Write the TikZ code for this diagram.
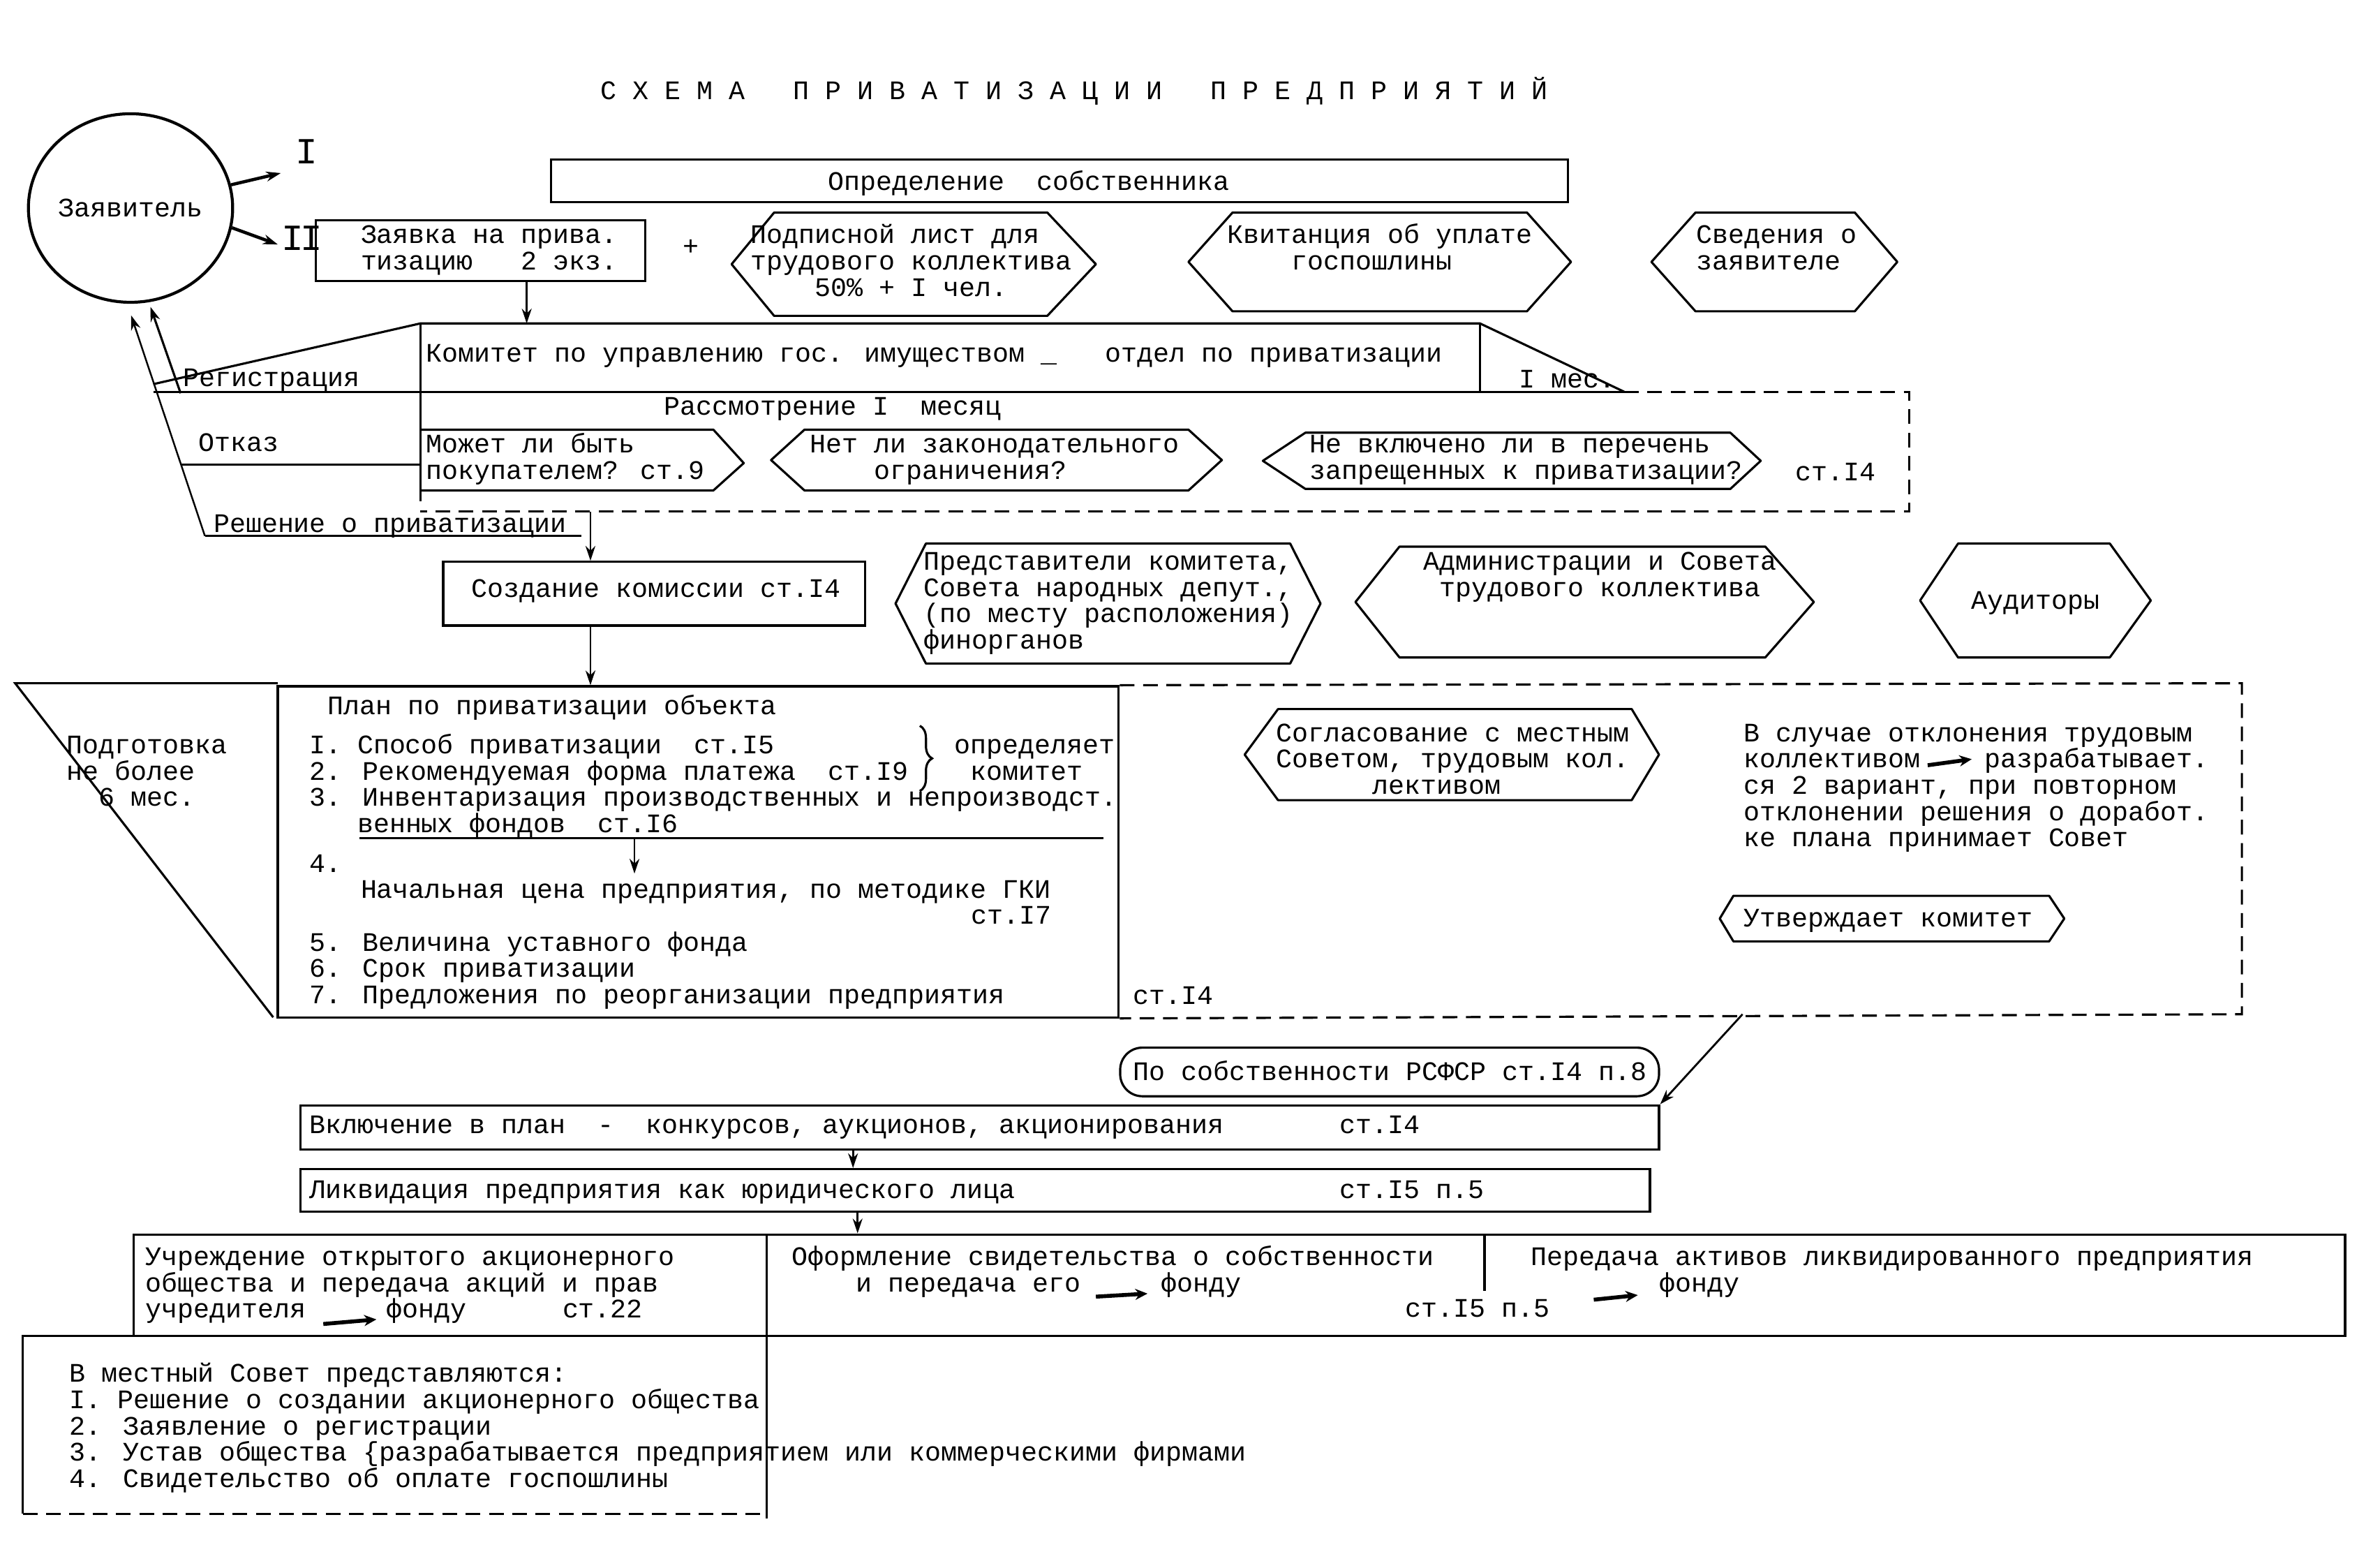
\documentclass[tikz,border=0pt]{standalone}
\usepackage{fontspec}
\setmainfont{Liberation Mono}
\usetikzlibrary{arrows.meta, positioning, fit, shapes.geometric, decorations.pathreplacing}
\newcommand\typew{\fontsize{10.9}{10.7}\selectfont}
\newcommand\topstr{\rule{0pt}{9.5pt}}
\tikzset{
  box/.style    = {rectangle, draw, line width=0.9pt, inner sep=0pt},
  txt/.style    = {inner sep=0pt, anchor=north west, align=left, yshift=6.6pt},
  hexa/.style   = {draw, line width=0.9pt, line join=round},
  arrow/.style  = {-{Stealth[length=6pt, width=4pt]}, line width=0.8pt},
  harrow/.style = {-{Stealth[length=5pt, width=4.5pt]}, line width=1.6pt},
  dline/.style  = {line width=0.9pt, dash pattern=on 6pt off 3.5pt},
}
\begin{document}
\begin{tikzpicture}[x=0.021747cm, y=-0.021747cm, line width=0.9pt,
                    every node/.style={font=\typew}]
  \useasboundingbox (0,0) rectangle (1568,1022);

  \node[txt] (title) at (395,60)
        {\topstr С Х Е М А~~~П Р И В А Т И З А Ц И И~~~П Р Е Д П Р И Я Т И Й};

  % applicant
  \node[draw, ellipse, line width=1.2pt, minimum width=2.78cm, minimum height=2.70cm,
        inner sep=0pt] (zayavitel) at (86,137) {Заявитель};
  \node[inner sep=0pt, font=\fontsize{15}{15}\selectfont] (romI)  at (202,100) {I};
  \node[inner sep=0pt, font=\fontsize{15}{15}\selectfont] (romII) at (199,157) {I\kern-1.5pt I};
  \coordinate (inI)  at (185,114);
  \coordinate (inII) at (183,161);
  \draw[arrow, line width=1.3pt] (zayavitel.13)  -- (inI);
  \draw[arrow, line width=1.3pt] (zayavitel.-11) -- (inII);

  % documents
  \node[box, fit={(208,145) (425,185)}] (zayavka) {};
  \node[txt] (zayavkaT) at (237,155) {\topstr Заявка на прива.\\тизацию~~~2 экз.};
  \node (plus) at (455,163) {+};
  \node[box, fit={(363,105) (1033,133)}] (opred) {};
  \node[txt] (opredTop) at (545,120) {\topstr Определение~~собственника};

  \foreach \l/\a/\b/\r/\t/\d in {482/510/690/722/140/208, 783/812/1006/1035/140/205,
      1088/1117/1222/1250/140/205, 508/530/783/805/283/323, 832/860/1140/1160/285/322,
      590/610/850/870/358/437, 893/922/1163/1195/360/433, 1265/1290/1390/1417/358/433,
      820/842/1075/1093/467/527, 1133/1142/1350/1360/590/620}
    \draw[hexa] (\l,{(\t+\d)/2}) -- (\a,\t) -- (\b,\t) -- (\r,{(\t+\d)/2})
                -- (\b,\d) -- (\a,\d) -- cycle;

  \node[txt] (podpT) at (494,155) {\topstr Подписной лист для\\трудового коллектива\\~~~~50\% + I чел.};
  \node[txt] (kvitT) at (808,155) {\topstr Квитанция об уплате\\~~~~госпошлины};
  \node[txt] (svedT) at (1117,155) {\topstr Сведения о\\заявителе};

  % committee
  \coordinate (regSl) at (101,253);
  \coordinate (regB)  at (101,258);
  \coordinate (komTL) at (277,213);
  \coordinate (komTR) at (975,213);
  \coordinate (komBR) at (1070,258);
  \coordinate (komV)  at (277,330);
  \draw (regSl) -- (komTL) -- (komTR) -- (komBR);
  \draw (komTR) -- (komTR |- komBR);
  \draw (regB) -- (komBR);
  \draw (komTL) -- (komV);
  \coordinate (zvOut) at (347,185);
  \draw[arrow] (zvOut) -- (zvOut |- komTL);
  \node[txt] (regT) at (120,249) {\topstr Регистрация};
  \node[txt] (komT) at (280,233) {\topstr Комитет по управлению гос. имуществом \_~~~отдел по приватизации};
  \node[txt] (mesT) at (1000,250) {\topstr I мес.};

  % review
  \draw[dline] (komBR) -- (1258,258) -- (1258,337) -- (277,337);
  \node[txt] (rasT) at (437,268) {\topstr Рассмотрение I~~месяц};
  \draw[hexa] (277,283) -- (470,283) -- (490,305) -- (470,323) -- (277,323);
  \node[txt] (mozhT) at (280,293) {\topstr Может ли быть\\покупателем? ст.9};
  \node[txt] (netT)  at (533,293) {\topstr Нет ли законодательного\\~~~~ограничения?};
  \node[txt] (nevkT) at (862,293) {\topstr Не включено ли в перечень\\запрещенных к приватизации?};
  \node[txt] (st14a) at (1182,311) {\topstr ст.I4};

  % back to applicant
  \coordinate (reshL) at (135,353);
  \coordinate (reshR) at (383,353);
  \coordinate (arrB)  at (119,259);
  \coordinate (otkL)  at (119,306);
  \draw[arrow, line width=0.7pt, shorten >=5pt] (reshL) -- (zayavitel.268);
  \draw[arrow, line width=0.9pt, shorten >=2pt] (arrB) -- (zayavitel.281);
  \draw (otkL) -- (otkL -| komV);
  \draw (reshL) -- (reshR);
  \node[txt] (otkT)  at (130,292) {\topstr Отказ};
  \node[txt] (reshT) at (140,345) {\topstr Решение о приватизации};

  % commission
  \node[box, fit={(292,370) (570,412)}] (sozd) {};
  \node[txt] (sozdT) at (310,388) {\topstr Создание комиссии ст.I4};
  \coordinate (reshTop) at (389,337);
  \draw[arrow] (reshTop) -- (reshTop |- sozd.north);
  \node[txt] (predT) at (608,370) {\topstr Представители комитета,\\Совета народных депут.,\\(по месту расположения)\\финорганов};
  \node[txt] (admT)  at (937,370) {\topstr Администрации и Совета\\~трудового коллектива};
  \node[inner sep=0pt] (audT) at (1341,397) {Аудиторы};

  % plan
  \node[box, fit={(183,452) (737,670)}] (plan) {};
  \draw[arrow] (sozd.south -| reshTop) -- (plan.north -| reshTop);
  \draw (180,670) -- (10,450) -- (183,450);
  \node[txt] (podgT)  at (43,491)  {\topstr Подготовка\\не более\\~~6 мес.};
  \node[txt] (planT)  at (215,465) {\topstr План по приватизации объекта};
  \node[txt] (plan13) at (203,491) {\topstr I. Способ приватизации~~ст.I5\\2. Рекомендуемая форма платежа~~ст.I9\\3. Инвентаризация производственных и непроизводст.\\~~~венных фондов~~ст.I6};
  \draw[decorate, decoration={brace, amplitude=5pt}] (606,478) -- (606,521);
  \node[txt] (opredT) at (628,491) {\topstr определяет\\~комитет};
  \coordinate (ulL)   at (237,552);
  \coordinate (ulR)   at (727,552);
  \coordinate (ulArr) at (418,552);
  \draw (ulL) -- (ulR);
  \node[txt] (p4T)    at (203,569) {\topstr 4.};
  \node[txt] (nachT)  at (237,586) {\topstr Начальная цена предприятия, по методике ГКИ};
  \draw[arrow] (ulArr) -- (ulArr |- nachT.north);
  \node[txt] (st17)   at (639,603) {\topstr ст.I7};
  \node[txt] (plan57) at (203,621) {\topstr 5. Величина уставного фонда\\6. Срок приватизации\\7. Предложения по реорганизации предприятия};
  \node[txt] (st14b)  at (746,656) {\topstr ст.I4};

  % approval
  \draw[dline] (plan.north east) -- (1477,450) -- (1477,668) -- (plan.south east);
  \node[txt] (soglT) at (840,483) {\topstr Согласование с местным\\Советом, трудовым кол.\\~~~~~~лективом};
  \node[txt] (sluchT) at (1148,483) {\topstr В случае отклонения трудовым\\коллективом~~~~разрабатывает.\\ся 2 вариант, при повторном\\отклонении решения о доработ.\\ке плана принимает Совет};
  \coordinate (kolA) at (1270,504);
  \coordinate (kolB) at (1299,500);
  \draw[harrow] (kolA) -- (kolB);
  \node[txt] (utvT) at (1148,605) {\topstr Утверждает комитет};
  \coordinate (dashOut) at (1148,668);

  % realisation
  \node[box, rounded corners=9pt, fit={(738,690) (1093,722)}] (rsfsr) {};
  \node[txt] (rsfsrT) at (746,706) {\topstr По собственности РСФСР ст.I4 п.8};
  \node[box, fit={(198,728) (1093,757)}] (vkl) {};
  \draw[arrow] (dashOut) -- (vkl.north east);
  \node[txt] (vklT)  at (203,741) {\topstr Включение в план~~-~~конкурсов, аукционов, акционирования};
  \node[txt] (st14c) at (882,741) {\topstr ст.I4};
  \node[box, fit={(198,770) (1087,798)}] (likv) {};
  \coordinate (vklOut) at (562,757);
  \draw[arrow] (vklOut) -- (vklOut |- likv.north);
  \node[txt] (likvT) at (203,784) {\topstr Ликвидация предприятия как юридического лица};
  \node[txt] (st15a) at (882,784) {\topstr ст.I5 п.5};

  % final row
  \node[box, fit={(88,813) (1545,880)}] (row) {};
  \coordinate (likvOut) at (565,798);
  \draw[arrow] (likvOut) -- (likvOut |- row.north);
  \draw (505,813) -- (505,1000);
  \draw (978,813) -- (978,850);
  \draw (88,880) -- (15,880) -- (15,997);
  \draw[dline] (15,997) -- (505,997);
  \node[txt] (uchT) at (95,828) {\topstr Учреждение открытого акционерного\\общества и передача акций и прав\\учредителя~~~~~фонду~~~~~~ст.22};
  \node[txt] (oformT) at (521,828) {\topstr Оформление свидетельства о собственности\\~~~~и передача его~~~~~фонду};
  \node[txt] (st15b) at (925,862) {\topstr ст.I5 п.5};
  \node[txt] (peredT) at (1008,828) {\topstr Передача активов ликвидированного предприятия\\~~~~~~~~фонду};
  \coordinate (uchA) at (213,872);
  \coordinate (uchB) at (248,869);
  \coordinate (ofA)  at (722,854);
  \coordinate (ofB)  at (756,852);
  \coordinate (peA)  at (1050,856);
  \coordinate (peB)  at (1079,853);
  \foreach \a/\b in {uchA/uchB, ofA/ofB, peA/peB}
    \draw[harrow] (\a) -- (\b);
  \node[txt] (sovT) at (45,905) {\topstr В местный Совет представляются:\\I. Решение о создании акционерного общества\\2. Заявление о регистрации\\3. Устав общества \{разрабатывается предприятием или коммерческими фирмами\\4. Свидетельство об оплате госпошлины};
\end{tikzpicture}
\end{document}
